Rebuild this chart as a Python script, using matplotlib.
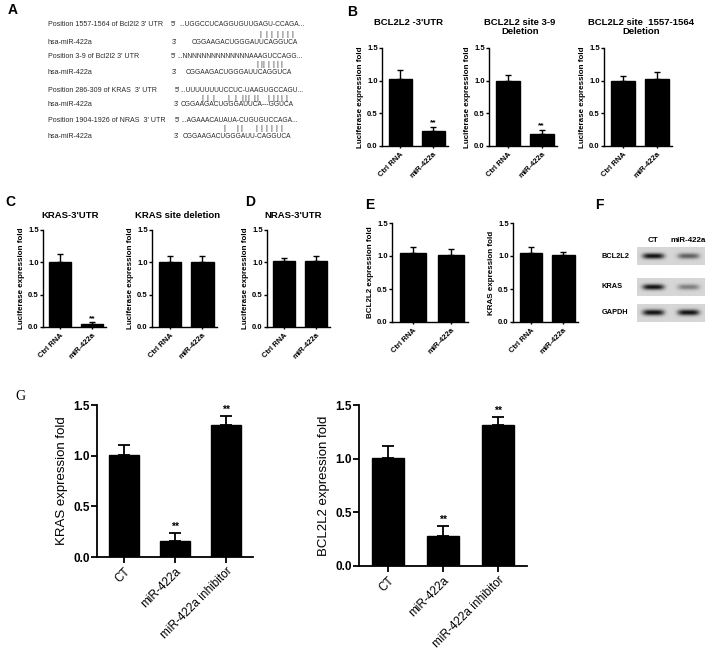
import numpy as np
import matplotlib
matplotlib.use('Agg')
import matplotlib.pyplot as plt

plt.rcParams['font.family'] = ['Liberation Sans', 'DejaVu Sans']

# --- data ---
ctrl_cats = ['Ctrl RNA', 'miR-422a']
g_cats = ['CT', 'miR-422a', 'miR-422a inhibitor']

b1_mean = [1.03, 0.23]
b1_err = [0.13, 0.06]
b1_star = ['', '**']
b2_mean = [0.99, 0.18]
b2_err = [0.09, 0.07]
b2_star = ['', '**']
b3_mean = [0.99, 1.03]
b3_err = [0.08, 0.11]
b3_star = ['', '']
c1_mean = [1.00, 0.05]
c1_err = [0.13, 0.02]
c1_star = ['', '**']
c2_mean = [1.00, 1.00]
c2_err = [0.10, 0.10]
c2_star = ['', '']
d_mean = [1.02, 1.02]
d_err = [0.04, 0.08]
d_star = ['', '']
e1_mean = [1.04, 1.01]
e1_err = [0.09, 0.09]
e1_star = ['', '']
e2_mean = [1.05, 1.01]
e2_err = [0.08, 0.05]
e2_star = ['', '']
g1_mean = [1.01, 0.16, 1.30]
g1_err = [0.10, 0.08, 0.09]
g1_star = ['', '**', '**']
g2_mean = [1.01, 0.28, 1.31]
g2_err = [0.11, 0.09, 0.08]
g2_star = ['', '**', '**']

blot_rows = ['BCL2L2', 'KRAS', 'GAPDH']
blot_lanes = ['CT', 'miR-422a']
blot_intensity = [[1.0, 0.6], [1.0, 0.45], [1.0, 1.0]]

seq_labels = ['Position 1557-1564 of Bcl2l2 3\' UTR', 'hsa-miR-422a',
              'Position 3-9 of Bcl2l2 3\' UTR', 'hsa-miR-422a',
              'Position 286-309 of KRAS  3\' UTR', 'hsa-miR-422a',
              'Position 1904-1926 of NRAS  3\' UTR', 'hsa-miR-422a']
seq_ends = ['5\'', '3\'', '5\'', '3\'', '5\'', '3\'', '5\'', '3\'']
seq_text = ['...UGGCCUCAGGUGUUGAGU-CCAGA...', 'CGGAAGACUGGGAUUCAGGUCA',
            '...NNNNNNNNNNNNNNAAAGUCCAGG...', 'CGGAAGACUGGGAUUCAGGUCA',
            '...UUUUUUUUCCUC-UAAGUGCCAGU...', 'CGGAAGACUGGGAUUCA---GGUCA',
            '...AGAAACAUAUA-CUGUGUCCAGA...', 'CGGAAGACUGGGAUU-CAGGUCA']
# horizontal pixel positions of the base-pairing ticks in panel A
pair_pos = [[260, 266, 271, 277, 282, 287, 292],
            [257, 261, 263, 268, 273, 277, 281],
            [202, 207, 213, 228, 235, 242, 245, 248, 254, 257, 268, 273, 277, 281, 286],
            [224, 237, 241, 256, 261, 266, 271, 276, 281]]

W, H = 714, 661
fig = plt.figure(figsize=(W / 100, H / 100), dpi=100)


def add_ax(x0, x1, ytop, ybot):
    return fig.add_axes([x0 / W, 1 - ybot / H, (x1 - x0) / W, (ybot - ytop) / H])


def ftext(x, y, s, **kw):
    fig.text(x / W, 1 - y / H, s, **kw)


def bar_panel(ax, cats, means, errs, stars, ylabel, small=True):
    x = np.arange(len(means))
    if small:
        wid, fs, lfs, lw, wt = 0.7, 5.5, 5.8, 1.0, 'bold'
        ax.set_xlim(-0.55, len(means) - 0.55)
    else:
        wid, fs, lfs, lw, wt = 0.58, 8.5, 9.5, 1.3, 'normal'
        ax.set_xlim(-0.52, len(means) - 0.48)
    ax.bar(x, means, width=wid, color='black', edgecolor='black')
    ax.errorbar(x, means, yerr=[np.zeros(len(errs)), errs], fmt='none',
                ecolor='black', elinewidth=lw, capsize=2.5 if small else 4, capthick=lw)
    for xi, m, e, s in zip(x, means, errs, stars):
        if s:
            ax.text(xi, m + e + 0.01, s, ha='center', va='bottom',
                    fontsize=6 if small else 7.5, fontweight='bold')
    ax.set_ylim(0, 1.5)
    ax.set_yticks([0, 0.5, 1.0, 1.5])
    ax.set_yticklabels(['0.0', '0.5', '1.0', '1.5'], fontsize=fs, fontweight='bold')
    ax.set_xticks(x)
    ax.set_xticklabels(cats, rotation=45, ha='right', rotation_mode='anchor',
                       fontsize=fs, fontweight=wt)
    ax.set_ylabel(ylabel, fontsize=lfs, fontweight='bold' if small else 'normal',
                  labelpad=2 if small else 4)
    for sp in ['top', 'right']:
        ax.spines[sp].set_visible(False)
    for sp in ['left', 'bottom']:
        ax.spines[sp].set_linewidth(lw)
    ax.tick_params(axis='y', length=2 if small else 4, width=lw, pad=1)
    ax.tick_params(axis='x', length=1.5 if small else 4, width=lw, pad=2)


luc = 'Luciferase expression fold'

# panel A
rows_y = [25, 42, 57, 73, 90, 105, 120, 136]
end_x = [171, 172, 171, 172, 175, 174, 175, 174]
seq_x = [179, 192, 177, 186, 180, 181, 181, 183]
tc = '#2a2a2a'
for lab, y, ex, sx, e, s in zip(seq_labels, rows_y, end_x, seq_x, seq_ends, seq_text):
    ftext(48, y, lab, fontsize=5.1, va='center', color=tc)
    ftext(ex, y, e, fontsize=5.1, va='center', color=tc)
    ftext(sx, y, s, fontsize=4.8, va='center', color=tc)
pair_y = [34, 64, 98, 128]
for py, xs_ in zip(pair_y, pair_pos):
    for px in xs_:
        ftext(px, py, '|', fontsize=5.5, va='center', ha='center', color=tc)

# panel B
axb1 = add_ax(382, 448, 48, 146)
bar_panel(axb1, ctrl_cats, b1_mean, b1_err, b1_star, luc)
axb2 = add_ax(489, 557, 48, 146)
bar_panel(axb2, ctrl_cats, b2_mean, b2_err, b2_star, luc)
axb3 = add_ax(604, 672, 48, 146)
bar_panel(axb3, ctrl_cats, b3_mean, b3_err, b3_star, luc)
ftext(409, 18, "BCL2L2 -3'UTR", fontsize=6.8, fontweight='bold', ha='center', va='top')
ftext(520, 18, "BCL2L2 site 3-9\nDeletion", fontsize=6.8, fontweight='bold', ha='center', va='top', linespacing=1.0)
ftext(641, 18, "BCL2L2 site  1557-1564\nDeletion", fontsize=6.8, fontweight='bold', ha='center', va='top', linespacing=1.0)

# panel C and D
axc1 = add_ax(43, 106, 230, 327)
bar_panel(axc1, ctrl_cats, c1_mean, c1_err, c1_star, luc)
axc2 = add_ax(152, 217, 230, 327)
bar_panel(axc2, ctrl_cats, c2_mean, c2_err, c2_star, luc)
axd = add_ax(267, 330, 230, 327)
bar_panel(axd, ctrl_cats, d_mean, d_err, d_star, luc)
ftext(70, 215, "KRAS-3'UTR", fontsize=6.8, fontweight='bold', ha='center', va='center')
ftext(178, 215, "KRAS site deletion", fontsize=6.8, fontweight='bold', ha='center', va='center')
ftext(293, 215, "NRAS-3'UTR", fontsize=6.8, fontweight='bold', ha='center', va='center')

# panel E
axe1 = add_ax(392, 468, 223, 322)
bar_panel(axe1, ctrl_cats, e1_mean, e1_err, e1_star, 'BCL2L2 expression fold')
axe2 = add_ax(513, 578, 223, 322)
bar_panel(axe2, ctrl_cats, e2_mean, e2_err, e2_star, 'KRAS expression fold')

# panel F: western blot strips
row_centers = [256, 287, 313]
xs = np.linspace(0, 1, 140)
ys = np.linspace(-1, 1, 34)
lane_c = [0.24, 0.76]
for name, yc, inten in zip(blot_rows, row_centers, blot_intensity):
    axf = add_ax(637, 705, yc - 9, yc + 9)
    img = np.zeros((len(ys), len(xs)))
    for c, v in zip(lane_c, inten):
        img += v * np.exp(-((xs[None, :] - c) / 0.16) ** 4) * np.exp(-(ys[:, None] / 0.32) ** 2)
    img = 0.84 - 0.78 * np.clip(img, 0, 1)
    axf.imshow(img, cmap='gray', vmin=0, vmax=1, aspect='auto', interpolation='bilinear')
    axf.set_xticks([])
    axf.set_yticks([])
    for sp in axf.spines.values():
        sp.set_visible(False)
    ftext(602, yc, name, fontsize=5.3, fontweight='bold', va='center')
ftext(653, 241, blot_lanes[0], fontsize=5.8, fontweight='bold', ha='center', va='center')
ftext(688, 241, blot_lanes[1], fontsize=5.8, fontweight='bold', ha='center', va='center')

# panel G
axg1 = add_ax(97, 253, 405, 557)
bar_panel(axg1, g_cats, g1_mean, g1_err, g1_star, 'KRAS expression fold', small=False)
axg2 = add_ax(359, 527, 405, 566)
bar_panel(axg2, g_cats, g2_mean, g2_err, g2_star, 'BCL2L2 expression fold', small=False)

# panel letters
for lab, x, y in [('A', 8, 10), ('B', 347, 12), ('C', 5, 202), ('D', 245, 202),
                  ('E', 365, 205), ('F', 595, 205)]:
    ftext(x, y, lab, fontsize=10, fontweight='bold', va='center')
ftext(15, 397, 'G', fontsize=10, family='Liberation Serif', va='center')

fig.savefig('out.png', dpi=100)
